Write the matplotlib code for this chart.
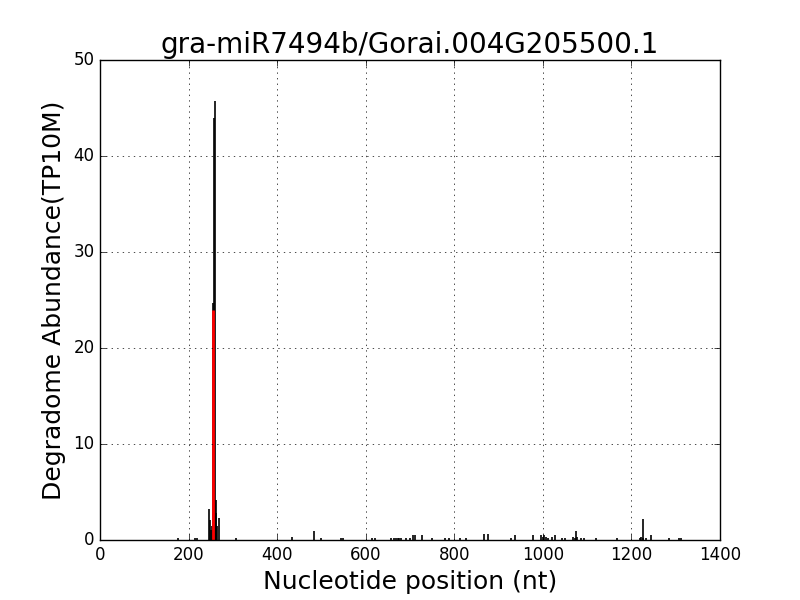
import matplotlib
matplotlib.use("Agg")
import matplotlib.pyplot as plt

# degradome reads per position (black) and the cleavage site (red)
posicoes = [177, 214, 220, 245, 248, 250, 253, 255, 257, 259, 261, 263, 265, 268,
            308, 433, 484, 500, 544, 549, 615, 622, 657, 664, 668, 672, 676, 680,
            692, 700, 707, 712, 728, 749, 780, 788, 813, 826, 868, 877, 928, 938,
            978, 995, 1000, 1003, 1008, 1012, 1020, 1027, 1044, 1050, 1069, 1072,
            1074, 1077, 1087, 1093, 1121, 1168, 1219, 1222, 1225, 1227, 1233, 1245,
            1285, 1308, 1313]
abbondanza = [0.2, 0.2, 0.2, 3.2, 2.1, 1.0, 1.5, 24.7, 44.0, 45.7, 4.2, 2.8, 1.5, 2.3,
              0.2, 0.3, 0.9, 0.25, 0.2, 0.2, 0.2, 0.2, 0.2, 0.2, 0.2, 0.2, 0.2, 0.2,
              0.2, 0.2, 0.5, 0.5, 0.5, 0.2, 0.2, 0.2, 0.2, 0.2, 0.6, 0.6, 0.2, 0.5,
              0.5, 0.5, 0.3, 0.5, 0.3, 0.2, 0.3, 0.5, 0.2, 0.2, 0.3, 0.2,
              0.9, 0.3, 0.2, 0.2, 0.2, 0.2, 0.2, 0.3, 0.2, 2.2, 0.2, 0.5,
              0.2, 0.2, 0.2]
sito_taglio = [255]
abbondanza_taglio = [24.0]

plt.style.use("classic")
fig = plt.figure(figsize=(8, 6), dpi=100, facecolor="white")
ax = fig.add_axes([0.125, 0.1, 0.775, 0.8])

ax.vlines(posicoes, 0, abbondanza, colors="black", linewidth=1.2)
ax.vlines(sito_taglio, 0, abbondanza_taglio, colors="red", linewidth=2)

ax.set_xlim(0, 1400)
ax.set_ylim(0, 50)
ax.grid(True, color="black", linestyle=":")
ax.tick_params(labelsize=12)

ax.set_title("gra-miR7494b/Gorai.004G205500.1", fontsize=20)
ax.set_xlabel("Nucleotide position (nt)", fontsize=18)
ax.set_ylabel("Degradome Abundance(TP10M)", fontsize=18)

fig.savefig("out.png", dpi=100, facecolor="white")
